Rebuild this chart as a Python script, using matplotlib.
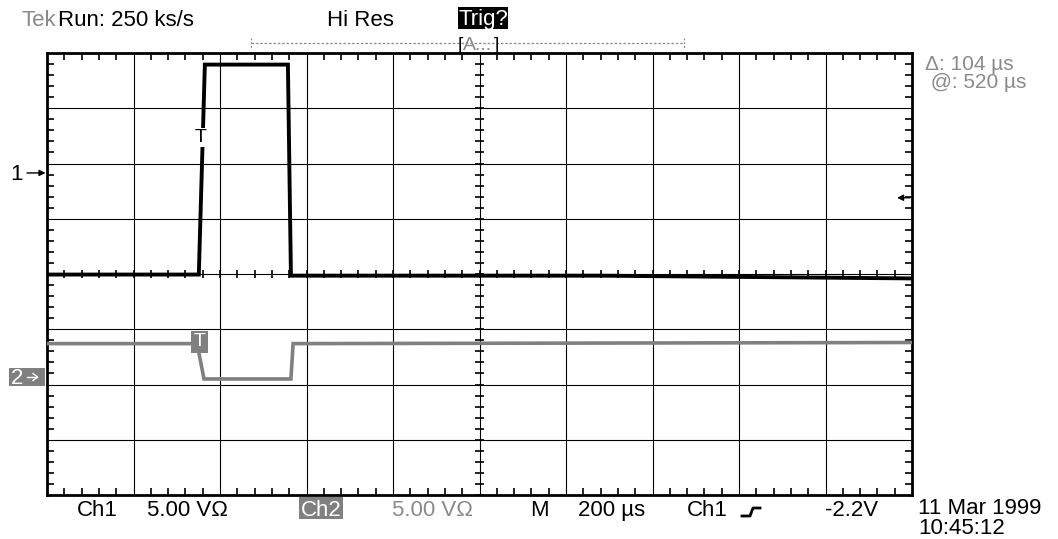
import matplotlib
matplotlib.use("Agg")
import matplotlib.pyplot as plt
import matplotlib.transforms as mtransforms
from matplotlib.lines import Line2D
from matplotlib.patches import Rectangle
import numpy as np

plt.rcParams['font.family'] = ['Liberation Sans', 'DejaVu Sans']

# scope settings
VOLTS_PER_DIV = 5.0
US_PER_DIV = 200.0
CH1_GND_DIV = 1.83     # "1 ->" marker, divisions above centre
CH2_GND_DIV = -1.92    # "2 ->" marker
TRIG_LEVEL_DIV = 1.38  # trigger arrow on the right

# Ch1 trace (time in us from left edge, volts)
ch1_t = [0, 351, 365, 557, 564, 1279, 2000]
ch1_v = [-9.2, -9.2, 9.8, 9.8, -9.3, -9.3, -9.55]

# Ch2 trace
ch2_t = [0, 347, 363, 564, 569, 2000]
ch2_v = [3.3, 3.3, 0.1, 0.1, 3.3, 3.4]

W, H = 1058, 539
GRAY = '#8a8a8a'
BOXGRAY = '#808080'

fig = plt.figure(figsize=(W / 100, H / 100), dpi=100)
fig.patch.set_facecolor('white')
# pixel coordinates, origin top-left
T = mtransforms.Affine2D().scale(1 / W, -1 / H).translate(0, 1) + fig.transFigure

x0, x1, y0, y1 = 47, 912, 53, 495
ax = fig.add_axes([x0 / W, 1 - y1 / H, (x1 - x0) / W, (y1 - y0) / H])
ax.set_xlim(0, 10 * US_PER_DIV)
ax.set_ylim(-4, 4)

# graticule
for k in range(1, 10):
    ax.axvline(k * US_PER_DIV, color='black', lw=0.8, zorder=1)
for k in range(-3, 4):
    ax.axhline(k, color='black', lw=0.8, zorder=1)

ax.set_xticks(np.arange(0, 2001, 200))
ax.set_yticks(np.arange(-4, 5, 1))
ax.set_xticks(np.arange(0, 2001, 40), minor=True)
ax.set_yticks(np.arange(-4, 4.01, 0.2), minor=True)
ax.tick_params(which='both', direction='in', top=True, right=True,
               labelbottom=False, labelleft=False)
ax.tick_params(which='major', length=0)
ax.tick_params(which='minor', length=5, width=1.2, color='black')
for s in ax.spines.values():
    s.set_linewidth(2.0)

# centre crosshair ticks
cx = np.arange(0, 2001, 40)
ax.vlines(cx, -0.075, 0.075, color='black', lw=1.2, zorder=1)
cy = np.arange(-4, 4.01, 0.2)
ax.hlines(cy, 1000 - 9.5, 1000 + 9.5, color='black', lw=1.2, zorder=1)

# traces
ch1_div = np.array(ch1_v) / VOLTS_PER_DIV + CH1_GND_DIV
ch2_div = np.array(ch2_v) / VOLTS_PER_DIV + CH2_GND_DIV
ax.plot(ch2_t, ch2_div, color=BOXGRAY, lw=2.6, solid_joinstyle='miter', zorder=3)
ax.plot(ch1_t, ch1_div, color='black', lw=2.8, solid_joinstyle='miter', zorder=4)

# trigger markers on traces
ax.text(ch1_t[1] + 3, 2.47, 'T', ha='center', va='center', fontsize=14, color='black',
        bbox=dict(facecolor='white', edgecolor='none', pad=0.5), zorder=5)
ax.text(ch2_t[1] + 5, -1.23, 'T', ha='center', va='center', fontsize=14, color='white',
        bbox=dict(facecolor=BOXGRAY, edgecolor='none', boxstyle='square,pad=0.12'), zorder=5)

fs = 16
# header
fig.text(22, 26, 'Tek', transform=T, fontsize=fs, color=GRAY, va='baseline')
fig.text(58, 26, 'Run: 250 ks/s', transform=T, fontsize=fs, color='black', va='baseline')
fig.text(327, 26, 'Hi Res', transform=T, fontsize=fs, color='black', va='baseline')
fig.add_artist(Rectangle((458, 7), 50, 22, transform=T, facecolor='black', edgecolor='none'))
fig.text(483, 25, 'Trig?', transform=T, fontsize=fs, color='white', va='baseline', ha='center')

# record window
fig.add_artist(Line2D([251, 684], [43, 43], transform=T, color=GRAY, lw=0.9,
                      linestyle=(0, (2, 1.5))))
for xe in (251, 684):
    fig.add_artist(Line2D([xe, xe], [38, 48], transform=T, color=GRAY, lw=0.9,
                          linestyle=(0, (1.5, 1.5))))
fig.text(458, 50, '[', transform=T, fontsize=14, color='black', va='baseline')
fig.text(463, 50, 'A...', transform=T, fontsize=14, color=GRAY, va='baseline')
fig.text(494, 50, ']', transform=T, fontsize=14, color='black', va='baseline')

# channel markers
fig.text(10, 180, '1', transform=T, fontsize=fs, color='black', va='baseline')
ax.annotate('', xy=(0, CH1_GND_DIV), xycoords='data', xytext=(27, 173), textcoords=T,
            arrowprops=dict(arrowstyle='-|>', color='black', lw=1.0, mutation_scale=9,
                            shrinkA=0, shrinkB=1), annotation_clip=False)
fig.add_artist(Rectangle((9, 368), 36, 18, transform=T, facecolor=BOXGRAY, edgecolor='none'))
fig.text(11, 384, '2', transform=T, fontsize=fs, color='white', va='baseline')
fig.add_artist(Line2D([27, 37], [377, 377], transform=T, color='white', lw=1.0))
fig.add_artist(Line2D([33, 37.5, 33], [373.5, 377, 380.5], transform=T, color='white', lw=1.0))
ax.annotate('', xy=(897, 274 - TRIG_LEVEL_DIV * 55.25), xycoords=T,
            xytext=(910, 274 - TRIG_LEVEL_DIV * 55.25), textcoords=T,
            arrowprops=dict(arrowstyle='-|>', color='black', lw=1.0, mutation_scale=9,
                            shrinkA=0, shrinkB=0), annotation_clip=False)

# cursor readout (baseline of the last line)
fig.text(925, 88, 'Δ: 104 µs\n @: 520 µs', transform=T, fontsize=15, color=GRAY,
         va='baseline', linespacing=0.92, ma='left')

# footer
fig.text(77, 516, 'Ch1', transform=T, fontsize=fs, color='black', va='baseline')
fig.text(147, 516, '5.00 VΩ', transform=T, fontsize=fs, color='black', va='baseline')
fig.add_artist(Rectangle((299, 497), 44, 22, transform=T, facecolor=BOXGRAY, edgecolor='none'))
fig.text(321, 516, 'Ch2', transform=T, fontsize=fs, color='white', va='baseline', ha='center')
fig.text(392, 516, '5.00 VΩ', transform=T, fontsize=fs, color=GRAY, va='baseline')
fig.text(530, 516, 'M', transform=T, fontsize=fs, color='black', va='baseline')
fig.text(578, 516, '200 µs', transform=T, fontsize=fs, color='black', va='baseline')
fig.text(687, 516, 'Ch1', transform=T, fontsize=fs, color='black', va='baseline')
fig.add_artist(Line2D([742, 750, 753, 760], [516, 516, 508, 508], transform=T,
                      color='black', lw=2.0))
fig.text(825, 516, '-2.2V', transform=T, fontsize=fs, color='black', va='baseline')
fig.text(918, 534, '11 Mar 1999\n10:45:12', transform=T, fontsize=fs, color='black',
         va='baseline', linespacing=0.92, ma='left')

fig.savefig('out.png', dpi=100)
